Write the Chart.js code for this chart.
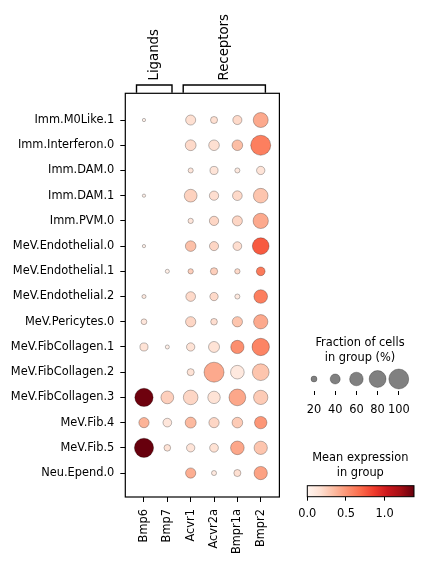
<!DOCTYPE html>
<html>
<head>
<meta charset="utf-8">
<script src="https://cdn.jsdelivr.net/npm/chart.js@4"></script>
<style>
  body { margin: 0; background: #fff; }
  canvas { position: absolute; }
</style>
</head>
<body>
<canvas id="main" width="290" height="563" style="left:0;top:0"></canvas>
<canvas id="sizeLegend" width="133" height="100" style="left:290px;top:330px"></canvas>
<canvas id="colorBar" width="133" height="110" style="left:290px;top:440px"></canvas>
<script>
// rows (top to bottom) and columns
const cellTypes = ['Imm.M0Like.1', 'Imm.Interferon.0', 'Imm.DAM.0', 'Imm.DAM.1', 'Imm.PVM.0',
  'MeV.Endothelial.0', 'MeV.Endothelial.1', 'MeV.Endothelial.2', 'MeV.Pericytes.0',
  'MeV.FibCollagen.1', 'MeV.FibCollagen.2', 'MeV.FibCollagen.3', 'MeV.Fib.4', 'MeV.Fib.5', 'Neu.Epend.0'];
const genes = ['Bmp6', 'Bmp7', 'Acvr1', 'Acvr2a', 'Bmpr1a', 'Bmpr2'];
const groups = [['Ligands', 0, 1], ['Receptors', 2, 5]];

// fraction of cells expressing (0-1), one array per gene
const fracBmp6   = [0.09, 0, 0, 0.09, 0, 0.09, 0, 0.12, 0.19, 0.30, 0, 0.89, 0.41, 0.95, 0];
const fracBmp7   = [0, 0, 0, 0, 0, 0, 0.12, 0, 0, 0.12, 0, 0.55, 0.33, 0.23, 0];
const fracAcvr1  = [0.40, 0.44, 0.16, 0.55, 0.17, 0.43, 0.17, 0.38, 0.41, 0.31, 0.25, 0.66, 0.45, 0.31, 0.41];
const fracAcvr2a = [0.25, 0.43, 0.30, 0.36, 0.36, 0.35, 0.26, 0.31, 0.23, 0.45, 1.00, 0.53, 0.41, 0.33, 0.16];
const fracBmpr1a = [0.35, 0.43, 0.16, 0.38, 0.40, 0.33, 0.17, 0.16, 0.41, 0.58, 0.60, 0.79, 0.43, 0.60, 0.25];
const fracBmpr2  = [0.68, 1.00, 0.31, 0.66, 0.70, 0.79, 0.33, 0.60, 0.64, 0.83, 0.79, 0.64, 0.53, 0.58, 0.58];

// mean expression in group, one array per gene
const exprBmp6   = [0.05, 0, 0, 0.05, 0, 0.05, 0, 0.10, 0.12, 0.15, 0, 1.36, 0.38, 1.38, 0];
const exprBmp7   = [0, 0, 0, 0, 0, 0, 0.05, 0, 0, 0.05, 0, 0.25, 0.12, 0.15, 0];
const exprAcvr1  = [0.17, 0.20, 0.12, 0.24, 0.12, 0.32, 0.25, 0.20, 0.22, 0.15, 0.15, 0.22, 0.35, 0.14, 0.40];
const exprAcvr2a = [0.17, 0.17, 0.14, 0.18, 0.22, 0.22, 0.25, 0.20, 0.18, 0.15, 0.42, 0.15, 0.22, 0.16, 0.10];
const exprBmpr1a = [0.20, 0.33, 0.10, 0.20, 0.22, 0.18, 0.20, 0.10, 0.30, 0.53, 0.10, 0.43, 0.27, 0.43, 0.17];
const exprBmpr2  = [0.42, 0.60, 0.14, 0.30, 0.42, 0.75, 0.62, 0.60, 0.42, 0.58, 0.30, 0.27, 0.50, 0.30, 0.45];

const sizeLegendValues = [20, 40, 60, 80, 100];
const colorTicks = [0, 0.5, 1.0];
const vmax = 1.38;

const fracs = [fracBmp6, fracBmp7, fracAcvr1, fracAcvr2a, fracBmpr1a, fracBmpr2];
const exprs = [exprBmp6, exprBmp7, exprAcvr1, exprAcvr2a, exprBmpr1a, exprBmpr2];

const FONT = { family: 'DejaVu Sans', size: 11.4 };
const maxR = 10; // radius of a 100% dot

// matplotlib "Reds"
const redsStops = ['#fff5f0', '#fee0d2', '#fcbba1', '#fc9272', '#fb6a4a', '#ef3b2c', '#cb181d', '#a50f15', '#67000d'];
function hex(h) { return [1, 3, 5].map(i => parseInt(h.substr(i, 2), 16)); }
function reds(v) {
  let t = Math.max(0, Math.min(1, v / vmax)) * 8;
  let i = Math.min(7, Math.floor(t)), f = t - i;
  const a = hex(redsStops[i]), b = hex(redsStops[i + 1]);
  const c = a.map((x, k) => Math.round(x + (b[k] - x) * f));
  return 'rgb(' + c.join(',') + ')';
}
function dotR(frac) { return maxR * Math.pow(frac, 0.75); }

const points = [];
genes.forEach((g, gi) => {
  cellTypes.forEach((c, ci) => {
    if (fracs[gi][ci] > 0) points.push({ x: gi, y: ci, r: dotR(fracs[gi][ci]), v: exprs[gi][ci] });
  });
});

const framePlugin = {
  id: 'frame',
  afterDraw(chart) {
    const { ctx, chartArea: a, scales } = chart;
    ctx.save();
    ctx.strokeStyle = '#000';
    ctx.lineWidth = 1.2;
    ctx.strokeRect(a.left, a.top, a.right - a.left, a.bottom - a.top);
    // group brackets
    ctx.lineWidth = 1.4;
    ctx.fillStyle = '#000';
    ctx.font = '13.3px "DejaVu Sans"';
    groups.forEach(([name, i0, i1]) => {
      const x0 = scales.x.getPixelForValue(i0 - 0.32);
      const x1 = scales.x.getPixelForValue(i1 + 0.2);
      ctx.beginPath();
      ctx.moveTo(x0, 92.7); ctx.lineTo(x0, 85); ctx.lineTo(x1, 85); ctx.lineTo(x1, 92.7);
      ctx.stroke();
      ctx.save();
      ctx.translate((x0 + x1) / 2 + 0.5, 80.5);
      ctx.rotate(-Math.PI / 2);
      ctx.textAlign = 'left';
      ctx.textBaseline = 'middle';
      ctx.fillText(name, 0, 0);
      ctx.restore();
    });
    ctx.restore();
  }
};

new Chart(document.getElementById('main'), {
  type: 'bubble',
  data: {
    datasets: [{
      data: points,
      backgroundColor: ctx => reds(ctx.raw ? ctx.raw.v : 0),
      borderColor: 'rgba(0,0,0,0.45)',
      borderWidth: 0.6
    }]
  },
  options: {
    responsive: false,
    animation: false,
    layout: { padding: { top: 93.3, right: 7.3, left: 0, bottom: 0 } },
    plugins: { legend: { display: false }, tooltip: { enabled: false } },
    scales: {
      x: {
        type: 'linear', min: -0.8, max: 5.8,
        afterBuildTicks: s => { s.ticks = genes.map((g, i) => ({ value: i })); },
        afterFit: s => { s.height = 66; },
        ticks: { autoSkip: false, minRotation: 90, maxRotation: 90, color: '#000', font: FONT, padding: 7,
          callback: (v, i) => genes[i] },
        grid: { drawOnChartArea: false, drawTicks: true, tickLength: 5, color: '#000' },
        border: { display: false }
      },
      y: {
        type: 'linear', reverse: true, min: -1.06, max: 14.95,
        afterBuildTicks: s => { s.ticks = cellTypes.map((c, i) => ({ value: i })); },
        afterFit: s => { s.width = 125.3; },
        ticks: { autoSkip: false, color: '#000', font: FONT, padding: 6,
          callback: (v, i) => cellTypes[i] },
        grid: { drawOnChartArea: false, drawTicks: true, tickLength: 5, color: '#000' },
        border: { display: false }
      }
    }
  },
  plugins: [framePlugin]
});

function titlePlugin(lines, cx, ys) {
  return {
    id: 'titles',
    afterDraw(chart) {
      const ctx = chart.ctx;
      ctx.save();
      ctx.fillStyle = '#000';
      ctx.font = FONT.size + 'px "DejaVu Sans"';
      ctx.textAlign = 'center';
      ctx.textBaseline = 'middle';
      lines.forEach((l, i) => ctx.fillText(l, cx, ys[i]));
      ctx.restore();
    }
  };
}

// size legend
new Chart(document.getElementById('sizeLegend'), {
  type: 'bubble',
  data: {
    datasets: [{
      data: sizeLegendValues.map((p, i) => ({ x: i, y: 0, r: dotR(p / 100) })),
      backgroundColor: '#808080',
      borderColor: 'rgba(0,0,0,0.45)',
      borderWidth: 0.6
    }]
  },
  options: {
    responsive: false,
    animation: false,
    layout: { padding: { top: 37, left: 13.4, right: 13.6, bottom: 0 } },
    plugins: { legend: { display: false }, tooltip: { enabled: false } },
    scales: {
      x: {
        type: 'linear', min: -0.5, max: 4.5,
        afterBuildTicks: s => { s.ticks = sizeLegendValues.map((p, i) => ({ value: i })); },
        afterFit: s => { s.height = 39; },
        ticks: { autoSkip: false, maxRotation: 0, color: '#000', font: FONT, padding: 8,
          callback: (v, i) => String(sizeLegendValues[i]) },
        grid: { drawOnChartArea: false, drawTicks: true, tickLength: 4, color: '#000' },
        border: { display: false }
      },
      y: { display: false, min: -1, max: 1 }
    }
  },
  plugins: [titlePlugin(['Fraction of cells', 'in group (%)'], 70, [13.5, 28.5])]
});

// colour bar
const gradientPlugin = {
  id: 'gradient',
  beforeDatasetsDraw(chart) {
    const { ctx, chartArea: a, scales } = chart;
    ctx.save();
    const x0 = scales.x.getPixelForValue(0), x1 = scales.x.getPixelForValue(vmax);
    const grad = ctx.createLinearGradient(x0, 0, x1, 0);
    redsStops.forEach((c, i) => grad.addColorStop(i / (redsStops.length - 1), c));
    ctx.fillStyle = grad;
    ctx.fillRect(a.left, a.top, a.right - a.left, a.bottom - a.top);
    ctx.strokeStyle = '#000';
    ctx.lineWidth = 1;
    ctx.strokeRect(a.left, a.top, a.right - a.left, a.bottom - a.top);
    ctx.restore();
  }
};

new Chart(document.getElementById('colorBar'), {
  type: 'scatter',
  data: { datasets: [{ data: [] }] },
  options: {
    responsive: false,
    animation: false,
    layout: { padding: { top: 45.7, left: 17.3, right: 9, bottom: 0 } },
    plugins: { legend: { display: false }, tooltip: { enabled: false } },
    scales: {
      x: {
        type: 'linear', min: 0, max: vmax,
        afterBuildTicks: s => { s.ticks = colorTicks.map(v => ({ value: v })); },
        afterFit: s => { s.height = 53.3; },
        ticks: { autoSkip: false, maxRotation: 0, color: '#000', font: FONT, padding: 7,
          callback: v => v.toFixed(1) },
        grid: { drawOnChartArea: false, drawTicks: true, tickLength: 4, color: '#000' },
        border: { display: false }
      },
      y: { display: false, min: 0, max: 1 }
    }
  },
  plugins: [gradientPlugin, titlePlugin(['Mean expression', 'in group'], 70.3, [17.7, 33])]
});
</script>
</body>
</html>
